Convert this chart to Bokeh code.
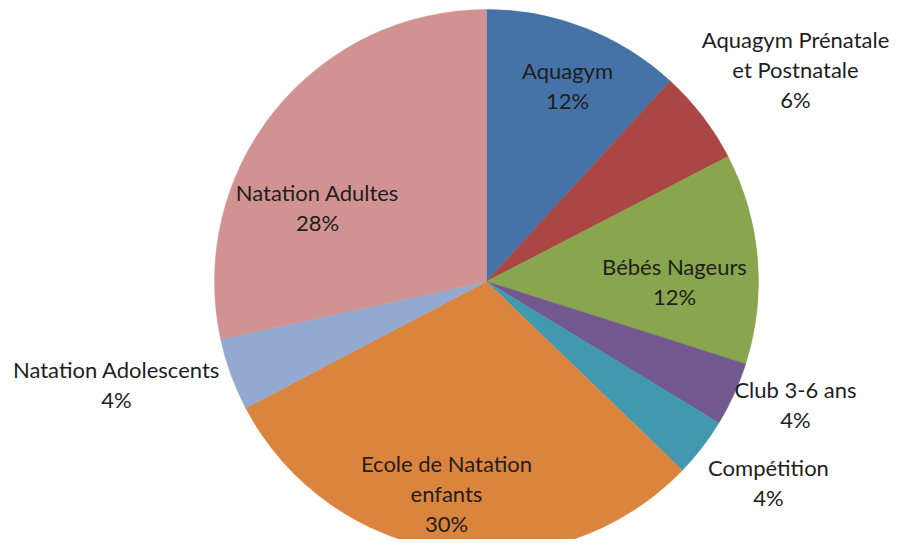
import math
from bokeh.plotting import figure
from bokeh.models import ColumnDataSource, Range1d
from bokeh.core.properties import value
from bokeh.embed import file_html
from bokeh.resources import INLINE

# ---- data ----
categories = ["Aquagym", "Aquagym Prénatale\net Postnatale", "Bébés Nageurs",
              "Club 3-6 ans", "Compétition", "Ecole de Natation\nenfants",
              "Natation Adolescents", "Natation Adultes"]
shares = [11.8, 5.6, 12.5, 3.8, 3.5, 30.1, 4.3, 28.4]
pct_labels = ["12%", "6%", "12%", "4%", "4%", "30%", "4%", "28%"]
colors = ["#4572A7", "#AA4643", "#89A54E", "#71588F", "#4198AF", "#DB843D",
          "#93A9CF", "#D19392"]

# ---- layout ----
W, H = 890, 539
CX, CY, R = 486, 258, 272
# label block centre offsets from pie centre (pixels, y up)
label_dx = [81, 309, 188, 309, 282, -40, -370, -169]
label_dy = [196, 212, 0, -123, -201, -212, -103, 74]

total = sum(shares)
starts, ends = [], []
cum = 0.0
for s in shares:
    a0 = math.pi / 2 - 2 * math.pi * (cum + s) / total
    a1 = math.pi / 2 - 2 * math.pi * cum / total
    starts.append(a0)
    ends.append(a1)
    cum += s

src = ColumnDataSource(dict(
    x=[CX] * len(shares), y=[CY] * len(shares),
    start=starts, end=ends, color=colors))

p = figure(width=W, height=H, output_backend="svg", toolbar_location=None,
           x_range=Range1d(0, W), y_range=Range1d(0, H),
           min_border=0, x_axis_location=None, y_axis_location=None)
p.outline_line_color = None
p.grid.visible = False
p.background_fill_color = "white"
p.border_fill_color = "white"

p.wedge(x="x", y="y", radius=R, start_angle="start", end_angle="end",
        fill_color="color", line_color="color", line_width=0.5, source=src)

lsrc = ColumnDataSource(dict(
    x=[CX + d for d in label_dx], y=[CY + d for d in label_dy],
    text=[c + "\n" + pl for c, pl in zip(categories, pct_labels)]))
p.text(x="x", y="y", text="text", source=lsrc, text_align="center",
       text_baseline="middle", text_font=value("Lato"),
       text_font_size="22px", text_color="#1e1e1e", text_line_height=1.1)

open("out.html", "w").write(file_html(p, INLINE))
